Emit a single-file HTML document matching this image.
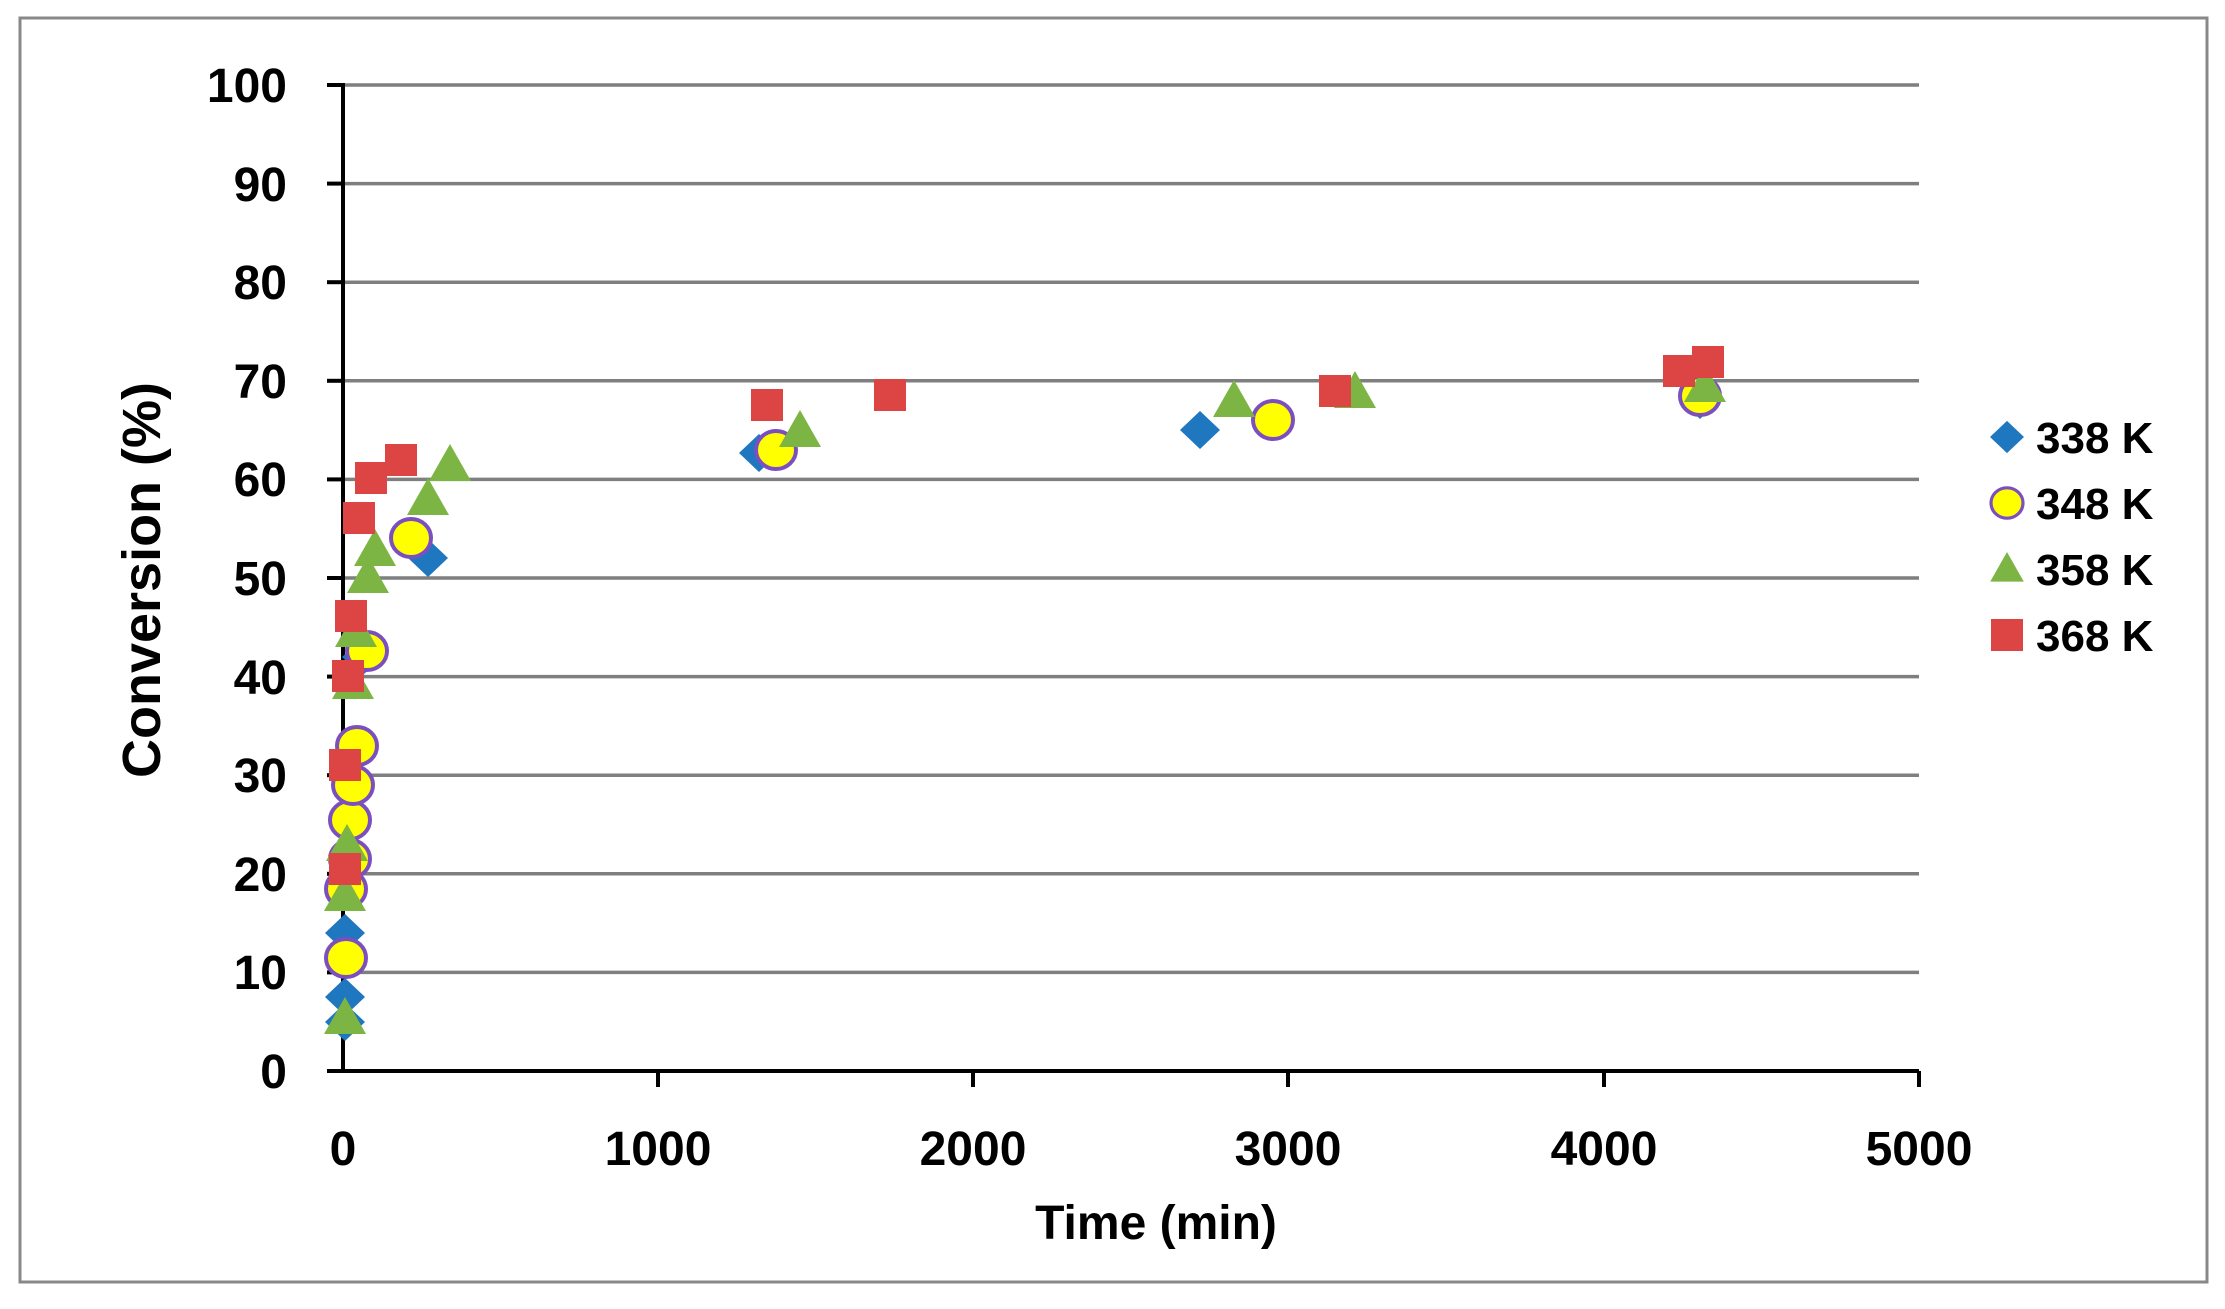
<!DOCTYPE html>
<html><head><meta charset="utf-8"><style>
html,body{margin:0;padding:0;background:#fff;}
svg{display:block;}
text{font-family:"Liberation Sans",sans-serif;font-weight:bold;fill:#000;}
</style></head><body>
<svg width="2225" height="1309" viewBox="0 0 2225 1309" xmlns="http://www.w3.org/2000/svg">
<rect x="20" y="18" width="2187" height="1264" fill="#fff" stroke="#888" stroke-width="3"/>
<g stroke="#7f7f7f" stroke-width="3.5">
<line x1="343" x2="1919" y1="85" y2="85"/><line x1="343" x2="1919" y1="183.6" y2="183.6"/>
<line x1="343" x2="1919" y1="282.2" y2="282.2"/><line x1="343" x2="1919" y1="380.8" y2="380.8"/>
<line x1="343" x2="1919" y1="479.4" y2="479.4"/><line x1="343" x2="1919" y1="578" y2="578"/>
<line x1="343" x2="1919" y1="676.6" y2="676.6"/><line x1="343" x2="1919" y1="775.2" y2="775.2"/>
<line x1="343" x2="1919" y1="873.8" y2="873.8"/><line x1="343" x2="1919" y1="972.4" y2="972.4"/>
</g>
<g stroke="#000" stroke-width="4">
<line x1="343" x2="343" y1="83" y2="1071"/><line x1="341" x2="1919" y1="1071" y2="1071"/>
<line x1="327" x2="343" y1="85" y2="85"/><line x1="327" x2="343" y1="183.6" y2="183.6"/>
<line x1="327" x2="343" y1="282.2" y2="282.2"/><line x1="327" x2="343" y1="380.8" y2="380.8"/>
<line x1="327" x2="343" y1="479.4" y2="479.4"/><line x1="327" x2="343" y1="578" y2="578"/>
<line x1="327" x2="343" y1="676.6" y2="676.6"/><line x1="327" x2="343" y1="775.2" y2="775.2"/>
<line x1="327" x2="343" y1="873.8" y2="873.8"/><line x1="327" x2="343" y1="972.4" y2="972.4"/>
<line x1="327" x2="343" y1="1071" y2="1071"/>
<line x1="658" x2="658" y1="1071" y2="1087"/><line x1="973" x2="973" y1="1071" y2="1087"/>
<line x1="1288" x2="1288" y1="1071" y2="1087"/><line x1="1604" x2="1604" y1="1071" y2="1087"/>
<line x1="1919" x2="1919" y1="1071" y2="1087"/>
</g>
<g font-size="48" text-anchor="end">
<text x="287" y="102">100</text><text x="287" y="201">90</text><text x="287" y="299">80</text>
<text x="287" y="398">70</text><text x="287" y="496">60</text><text x="287" y="595">50</text>
<text x="287" y="694">40</text><text x="287" y="792">30</text><text x="287" y="891">20</text>
<text x="287" y="989">10</text><text x="287" y="1088">0</text>
</g>
<g font-size="48" text-anchor="middle">
<text x="343" y="1165">0</text><text x="658" y="1165">1000</text><text x="973" y="1165">2000</text>
<text x="1288" y="1165">3000</text><text x="1604" y="1165">4000</text><text x="1919" y="1165">5000</text>
</g>
<text x="1156" y="1239" font-size="48" text-anchor="middle">Time (min)</text>
<text transform="translate(160,580) rotate(-90)" font-size="54" text-anchor="middle">Conversion (%)</text>
<defs>
<polygon id="dia" points="0,-19 20,0 0,19 -20,0" fill="#1f77c0"/>
<ellipse id="cir" rx="20" ry="19" fill="#ffff00" stroke="#7b4fc0" stroke-width="4"/>
<polygon id="tri" points="0,-20 21,17 -21,17" fill="#7db544"/>
<rect id="sq" x="-16" y="-16" width="32" height="32" fill="#dd4444"/>
</defs>
<g>
<use href="#dia" x="345" y="1022"/><use href="#dia" x="345" y="997"/><use href="#dia" x="345" y="933"/>
<use href="#dia" x="362" y="657"/><use href="#dia" x="428" y="558"/><use href="#dia" x="759" y="453"/>
<use href="#dia" x="1200" y="430"/><use href="#dia" x="1700" y="400"/>
</g>
<g>
<use href="#cir" x="346" y="958"/><use href="#cir" x="346" y="889"/><use href="#cir" x="350" y="859"/>
<use href="#cir" x="350" y="820"/><use href="#cir" x="353" y="785"/><use href="#cir" x="357" y="746"/>
<use href="#cir" x="367" y="651"/><use href="#cir" x="411" y="538"/><use href="#cir" x="776" y="450"/>
<use href="#cir" x="1273" y="420"/><use href="#cir" x="1700" y="396"/>
</g>
<g>
<use href="#tri" x="345" y="1017"/><use href="#tri" x="345" y="894"/><use href="#tri" x="347" y="844"/>
<use href="#tri" x="353" y="682"/><use href="#tri" x="356" y="630"/><use href="#tri" x="368" y="576"/>
<use href="#tri" x="375" y="549"/><use href="#tri" x="428" y="498"/><use href="#tri" x="450" y="464"/>
<use href="#tri" x="800" y="430"/><use href="#tri" x="1234" y="400"/><use href="#tri" x="1355" y="391"/>
<use href="#tri" x="1705" y="385"/>
</g>
<g>
<use href="#sq" x="345" y="869"/><use href="#sq" x="345" y="765"/><use href="#sq" x="348" y="676"/>
<use href="#sq" x="351" y="616"/><use href="#sq" x="359" y="518"/><use href="#sq" x="371" y="478"/>
<use href="#sq" x="401" y="460"/><use href="#sq" x="767" y="405"/><use href="#sq" x="890" y="395"/>
<use href="#sq" x="1335" y="391"/><use href="#sq" x="1679" y="371"/><use href="#sq" x="1708" y="362"/>
</g>
<g transform="translate(2007,437) scale(0.85)"><use href="#dia"/></g>
<g transform="translate(2007,503) scale(0.8)"><use href="#cir"/></g>
<g transform="translate(2007,568) scale(0.8)"><use href="#tri"/></g>
<g transform="translate(2007,635)"><use href="#sq"/></g>
<g font-size="44">
<text x="2036" y="453">338 K</text><text x="2036" y="519">348 K</text>
<text x="2036" y="585">358 K</text><text x="2036" y="651">368 K</text>
</g>
</svg>
</body></html>
